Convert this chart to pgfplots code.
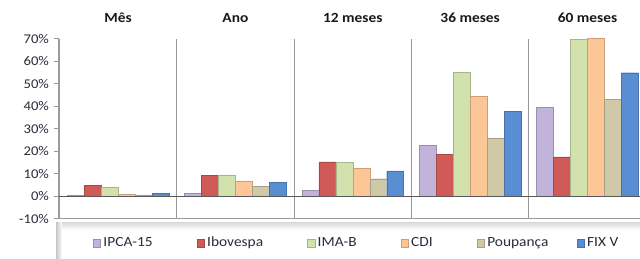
\documentclass[border=0pt]{standalone}
\usepackage{pgfplots}
\pgfplotsset{compat=1.18}
\usepackage{fontspec}
\setmainfont[FakeStretch=1.1]{Carlito}
\definecolor{cIPCA}{HTML}{C2B3DB}
\definecolor{cIBOV}{HTML}{CF5A57}
\definecolor{cIMAB}{HTML}{D2E2AC}
\definecolor{cCDI}{HTML}{FCC697}
\definecolor{cPOUP}{HTML}{D0C9A7}
\definecolor{cFIX}{HTML}{5A8ED2}
\definecolor{axgray}{HTML}{9A9A9A}
\definecolor{txt}{HTML}{2B2B3B}
\pgfplotstableread{
x ipca ibov imab cdi poup fix
0 0.2 4.6 3.9 0.6 0.5 1.1
1 1.3 9.3 9.4 6.4 4.2 6.0
2 2.6 15.2 15.0 12.4 7.7 11.2
3 22.6 18.4 54.9 44.2 25.5 37.6
4 39.4 17.4 69.5 70.2 43.1 54.8
}\data
\tikzset{cyl/.style={fill=#1, draw=#1!80!black, line width=0.3pt},
  gtitle/.style={anchor=base, font=\bfseries\fontsize{10.5}{12}\selectfont, text=black!90, yshift=12pt}}
\begin{document}
\begin{tikzpicture}
\path[use as bounding box] (0,0) rectangle (480pt,193.5pt);
\fill[white] (42pt,0) rectangle (480pt,27pt);
\shade[top color=gray!30, bottom color=white] (42pt,21pt) rectangle (480pt,27pt);
\shade[left color=gray!45, right color=white] (42pt,0) rectangle (46.5pt,27pt);
\begin{axis}[
  at={(44.25pt,29.6pt)}, anchor=south west,
  scale only axis, width=435.75pt, height=135pt,
  xmin=-0.503, xmax=4.447, ymin=-10, ymax=70,
  ybar=0pt, bar width=0.1445,
  axis lines*=left,
  axis line style={axgray, line width=0.8pt},
  xtick=\empty,
  extra x ticks={0.5,1.5,2.5,3.5},
  extra x tick labels={},
  extra x tick style={grid=major, major grid style={axgray, line width=0.8pt}, major tick length=0pt},
  ytick={-10,0,...,70},
  yticklabel={\pgfmathprintnumber{\tick}\%},
  /pgf/number format/assume math mode=true,
  yticklabel style={font=\fontsize{10}{12}\selectfont, text=txt},
  ytick style={axgray, line width=0.8pt},
  tick align=outside, major tick length=4pt,
  legend columns=6,
  legend image code/.code={\fill[#1] (0pt,-2.8pt) rectangle (5.6pt,2.8pt);},
  legend style={draw=none, fill=none, inner sep=0pt, at={(0.058,-0.136)}, anchor=west,
    font=\fontsize{10.5}{12}\selectfont, text=txt,
    /tikz/every even column/.append style={column sep=31pt}},
  clip=false,
]
\addplot[cyl=cIPCA] table[x=x,y=ipca]{\data};
\addplot[cyl=cIBOV] table[x=x,y=ibov]{\data};
\addplot[cyl=cIMAB] table[x=x,y=imab]{\data};
\addplot[cyl=cCDI] table[x=x,y=cdi]{\data};
\addplot[cyl=cPOUP] table[x=x,y=poup]{\data};
\addplot[cyl=cFIX] table[x=x,y=fix]{\data};
\legend{IPCA-15,Ibovespa,IMA-B,CDI,\makebox[34pt][l]{Poupança},FIX V}
\draw[black!65, line width=0.8pt] (axis cs:-0.503,0) -- (axis cs:4.447,0);
\node[gtitle] at (axis cs:0,70) {Mês};
\node[gtitle] at (axis cs:1,70) {Ano};
\node[gtitle] at (axis cs:2,70) {12 meses};
\node[gtitle] at (axis cs:3,70) {36 meses};
\node[gtitle] at (axis cs:4,70) {60 meses};
\end{axis}
\end{tikzpicture}
\end{document}
